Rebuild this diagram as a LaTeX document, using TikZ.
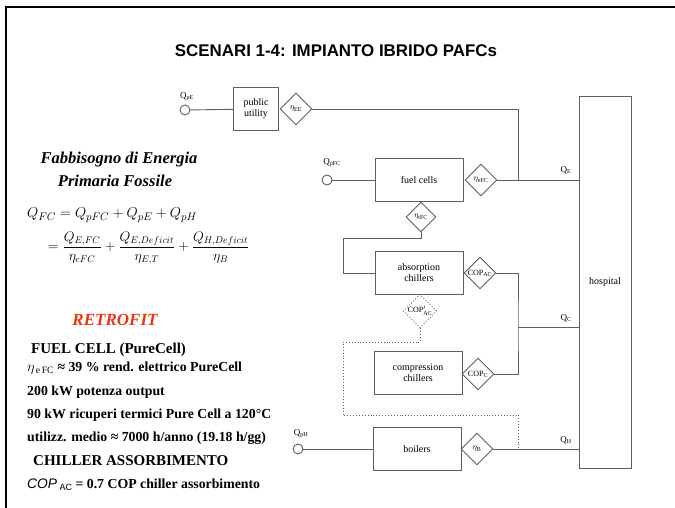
\documentclass[tikz,border=0pt]{standalone}
\usepackage{fontspec}
\setmainfont{Liberation Serif}
\newfontfamily\titolofont{Liberation Sans}
\usetikzlibrary{shapes.geometric,positioning,calc}
\definecolor{grigio}{RGB}{95,95,95}
\definecolor{rosso}{RGB}{240,50,20}
\tikzset{
  filo/.style={draw=grigio,line width=0.9pt},
  punt/.style={filo,dotted},
  blocco/.style={filo,minimum width=88pt,minimum height=43pt,align=center,inner sep=1pt,font=\fontsize{10}{11}\selectfont},
  rombo/.style={filo,diamond,aspect=1,minimum width=32pt,minimum height=32pt,inner sep=0pt,font=\fontsize{8}{9}\selectfont},
  cerchio/.style={filo,circle,minimum size=10pt,inner sep=0pt},
  etich/.style={inner sep=0pt,font=\fontsize{9}{10}\selectfont},
  riga/.style={anchor=base west,inner sep=0pt,font=\bfseries\fontsize{13.8}{15}\selectfont},
  testa/.style={anchor=base west,inner sep=0pt,font=\bfseries\fontsize{15}{17}\selectfont},
}
\begin{document}
\begin{tikzpicture}[x=1pt,y=-1pt]
  \useasboundingbox (0,0) rectangle (675,508);
  \draw[line width=2.5pt] (6,508) -- (6,7) -- (675,7);
  \node[font=\titolofont\bfseries\fontsize{16.9}{19}\selectfont] (titolo) at (336,51) {SCENARI 1-4: IMPIANTO IBRIDO PAFCs};

  % schema
  \node[blocco,minimum width=52pt,minimum height=372pt] (osp) at (605,282) {hospital};
  \node[cerchio] (qpe) at (185,110) {}; \node[etich] (lqpe) at (187,97) {Q$_{\mathrm{pE}}$};
  \node[blocco,minimum width=45pt] (pu) at (256,109) {public\\utility};
  \node[rombo] (eee) at (296,109) {$\eta_{\mathrm{EE}}$};
  \node[cerchio] (qpfc) at (327,180) {}; \node[etich] (lqpfc) at (332,163) {Q$_{\mathrm{pFC}}$};
  \node[blocco] (fc) at (419,180) {fuel cells};
  \node[rombo] (efc) at (481,180) {$\eta_{\mathrm{eFC}}$};
  \node[rombo,minimum width=30pt,minimum height=30pt] (etfc) at (421,217) {$\eta_{\mathrm{tFC}}$};
  \node[blocco] (ass) at (419,273) {absorption\\chillers};
  \node[rombo] (cac) at (480,273) {COP$_{\mathrm{AC}}$};
  \node[rombo,dotted,minimum width=30pt,minimum height=30pt] (cacd) at (420,311) {COP$'_{\mathrm{AC}}$};
  \node[blocco] (comp) at (418,373) {compression\\chillers};
  \node[rombo] (copc) at (478,374) {COP$_{\mathrm{C}}$};
  \node[cerchio] (qph) at (298,449) {}; \node[etich] (lqph) at (301,434) {Q$_{\mathrm{pH}}$};
  \node[blocco] (boil) at (417,449) {boilers};
  \node[rombo] (eb) at (477,449) {$\eta_{\mathrm{B}}$};

  \coordinate (nodoE) at (518,180); \coordinate (nodoC) at (518,327);
  \coordinate (g1) at (343,238); \coordinate (g2) at (343,342); \coordinate (g3) at (518,415);
  \draw[filo] (qpe) -- (pu); \draw[filo] (eee.east) -| (nodoE);
  \draw[filo] (qpfc) -- (fc); \draw[filo] (efc.east) -- (efc.east -| osp.west);
  \draw[filo] (etfc.south) |- (g1) |- (ass.west);
  \draw[filo] (cac.east) -| (nodoC) |- (copc.east); \draw[filo] (nodoC) -- (nodoC -| osp.west);
  \draw[filo] (qph) -- (boil); \draw[filo] (eb.east) -- (eb.east -| osp.west);
  \draw[punt] (ass.south) -- (cacd.north);
  \draw[punt] (cacd.south) |- (g2) |- (g3) -- (g3 |- eb.east);
  \node[etich] (lqe) at (566,170) {Q$_{\mathrm{E}}$};
  \node[etich] (lqc) at (566,318) {Q$_{\mathrm{C}}$};
  \node[etich] (lqh) at (566,440) {Q$_{\mathrm{H}}$};

  % testo a sinistra
  \node[font=\bfseries\itshape\fontsize{16.5}{18}\selectfont] (fab1) at (119,160) {Fabbisogno di Energia};
  \node[font=\bfseries\itshape\fontsize{16.5}{18}\selectfont] (fab2) at (115,181) {Primaria Fossile};
  \node[anchor=base west,inner sep=0pt,font=\fontsize{15}{16}\selectfont] (eq1) at (27,218) {$Q_{FC}=Q_{pFC}+Q_{pE}+Q_{pH}$};
  \node[anchor=west,inner sep=0pt,scale=0.965,font=\fontsize{13.6}{15}\selectfont] (eq2) at (48,248) {$\displaystyle =\frac{Q_{E,FC}}{\eta_{eFC}}+\frac{Q_{E,Deficit}}{\eta_{E,T}}+\frac{Q_{H,Deficit}}{\eta_{B}}$};
  \node[text=rosso,font=\bfseries\itshape\fontsize{17}{19}\selectfont] (retro) at (115,320) {RETROFIT};
  \node[testa] (fcell) at (31,353) {FUEL CELL (PureCell)};
  \node[riga] (r1) at (27,371) {$\eta_{\,\mathrm{e\,FC}}$ ≈ 39 \% rend. elettrico PureCell};
  \node[riga] (r2) at (27,395) {200 kW potenza output};
  \node[riga] (r3) at (27,418) {90 kW ricuperi termici Pure Cell a 120°C};
  \node[riga] (r4) at (27,441) {utilizz. medio ≈ 7000 h/anno (19.18 h/gg)};
  \node[testa] (chill) at (33,465) {CHILLER ASSORBIMENTO};
  \node[riga] (r5) at (27,488) {{\titolofont\mdseries\itshape COP}\raisebox{-2pt}{\titolofont\mdseries\fontsize{9}{9}\selectfont\ AC} = 0.7 COP chiller assorbimento};
\end{tikzpicture}
\end{document}
